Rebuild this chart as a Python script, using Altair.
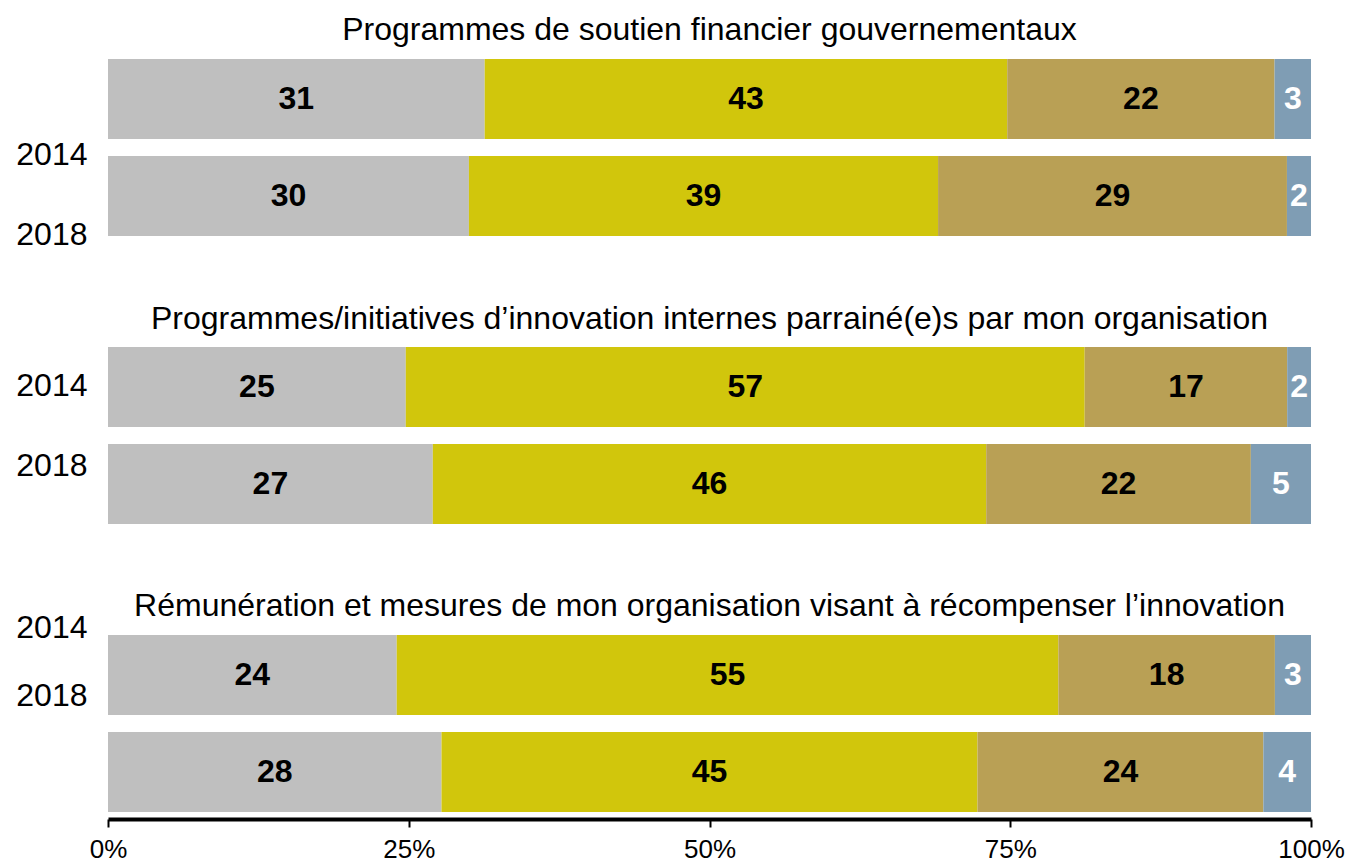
import altair as alt
import pandas as pd

titles = [
    "Programmes de soutien financier gouvernementaux",
    "Programmes/initiatives d’innovation internes parrainé(e)s par mon organisation",
    "Rémunération et mesures de mon organisation visant à récompenser l’innovation",
]
years = ["2014", "2018"]
cats = ["Catégorie 1", "Catégorie 2", "Catégorie 3", "Catégorie 4"]
colors = ["#bfbfbf", "#d1c60c", "#b9a055", "#7f9db4"]

p1_2014 = [31, 43, 22, 3]
p1_2018 = [30, 39, 29, 2]
p2_2014 = [25, 57, 17, 2]
p2_2018 = [27, 46, 22, 5]
p3_2014 = [24, 55, 18, 3]
p3_2018 = [28, 45, 24, 4]

panel_values = [(p1_2014, p1_2018), (p2_2014, p2_2018), (p3_2014, p3_2018)]

# style-only settings (label positions of the year axis, title offsets)
label_ranges = [[95, 175], [38, 118], [-8, 60]]
title_offsets = [12, 11, -12]

FONT = "Liberation Sans"


def make_panel(i, show_x):
    rows = []
    for y, vals in zip(years, panel_values[i]):
        for k, (c, v) in enumerate(zip(cats, vals)):
            rows.append({"year": y, "cat": c, "idx": k, "value": v})
    df = pd.DataFrame(rows)
    base = alt.Chart(df)

    if show_x:
        xaxis = alt.Axis(
            values=[0, 0.25, 0.5, 0.75, 1],
            format="%",
            title=None,
            grid=False,
            domainColor="black",
            domainWidth=4,
            tickColor="black",
            tickWidth=2,
            tickSize=8,
            offset=7,
            labelFontSize=26,
            labelPadding=9,
            labelFlush=False,
            labelColor="black",
            labelFont=FONT,
        )
    else:
        xaxis = None

    yscale = alt.Scale(paddingInner=0.175, paddingOuter=0)
    xscale = alt.Scale(domain=[0, 1], nice=False, zero=True)

    bars = base.mark_bar().encode(
        y=alt.Y("year:N", axis=None, scale=yscale, sort=years),
        x=alt.X("value:Q", stack="normalize", scale=xscale, axis=xaxis),
        color=alt.Color("cat:N", scale=alt.Scale(domain=cats, range=colors), legend=None),
        order=alt.Order("idx:Q", sort="ascending"),
    )

    text = (
        base.transform_joinaggregate(total="sum(value)", groupby=["year"])
        .transform_window(
            cum="sum(value)",
            groupby=["year"],
            sort=[alt.SortField("idx", order="ascending")],
            frame=[None, 0],
        )
        .transform_calculate(mid="(datum.cum - datum.value / 2) / datum.total")
        .mark_text(fontWeight="bold", fontSize=32, font=FONT)
        .encode(
            y=alt.Y("year:N", axis=None, sort=years),
            x=alt.X("mid:Q", scale=xscale, axis=xaxis),
            text="value:Q",
            color=alt.condition(
                alt.datum.cat == cats[3], alt.value("white"), alt.value("black")
            ),
        )
    )

    labels = (
        alt.Chart(pd.DataFrame({"year": years}))
        .mark_point(opacity=0)
        .encode(
            y=alt.Y(
                "year:N",
                sort=years,
                scale=alt.Scale(type="point", range=label_ranges[i], padding=0),
                axis=alt.Axis(
                    orient="left",
                    title=None,
                    domain=False,
                    ticks=False,
                    grid=False,
                    labelFontSize=32,
                    labelFont=FONT,
                    labelColor="black",
                    labelPadding=21,
                ),
            ),
            x=alt.value(0),
        )
    )

    return (
        alt.layer(alt.layer(bars, text), labels)
        .resolve_scale(y="independent")
        .properties(
            width=1203,
            height=177,
            title=alt.TitleParams(
                titles[i],
                fontSize=32,
                font=FONT,
                fontWeight="normal",
                color="black",
                anchor="middle",
                frame="group",
                offset=title_offsets[i],
            ),
        )
    )


chart = (
    alt.vconcat(
        alt.vconcat(make_panel(0, False), make_panel(1, False), spacing=53),
        make_panel(2, True),
        spacing=66,
    )
    .properties(padding={"left": 7, "top": 6, "right": 0, "bottom": 0})
    .configure_view(stroke=None)
)

chart.save("out.html", embed_options={"renderer": "svg", "actions": False})
